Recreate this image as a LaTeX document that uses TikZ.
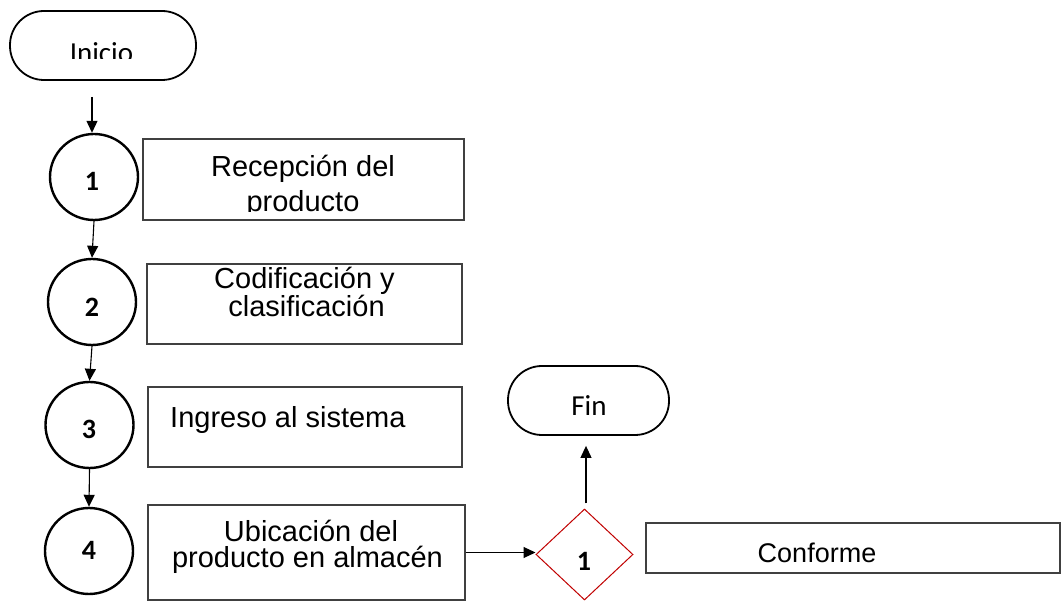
\documentclass[tikz,border=0pt]{standalone}
\usepackage{fontspec}
\setmainfont{Liberation Sans}
\newfontfamily\calfont{Carlito}
\usetikzlibrary{arrows.meta,shapes.geometric,calc}
\definecolor{boxgray}{HTML}{404040}
\definecolor{dmred}{HTML}{C00000}
\tikzset{
  boxstyle/.style={draw=boxgray,line width=1.4pt,rectangle,inner sep=0pt},
  stadium/.style={draw=black,line width=1.8pt,rectangle,rounded corners=34pt,inner sep=0pt,minimum height=69pt},
  stepcircle/.style={draw=black,line width=2.4pt,ellipse,inner sep=0pt,minimum width=88pt,minimum height=86pt},
  txt/.style={font=\fontsize{29}{35}\selectfont,inner sep=0pt,anchor=base},
  txttwo/.style={font=\fontsize{29}{23}\selectfont,inner sep=0pt,align=center,anchor=base},
  numtxt/.style={font=\calfont\bfseries\fontsize{28}{30}\selectfont,inner sep=0pt},
  termtxt/.style={font=\calfont\fontsize{29}{32}\selectfont,inner sep=0pt,anchor=base},
  arr/.style={line width=1.1pt,-{Triangle[length=12pt,width=11pt]}},
}
\begin{document}
\begin{tikzpicture}[x=1pt,y=-1pt]
\useasboundingbox (0,0) rectangle (1061,601);
% terminals
\node[stadium,minimum width=186pt] (inicio) at (103,45.5) {};
\begin{scope}
\clip (0,0) rectangle (1061,59);
\node[termtxt] (tinicio) at (101.5,63) {Inicio};
\end{scope}
\node[stadium,minimum width=161pt] (fin) at (588.5,400.5) {};
\node[termtxt] (tfin) at (589,416) {Fin};
% circles
\node[stepcircle] (c1) at (94,177) {};
\node[stepcircle] (c2) at (92,302) {};
\node[stepcircle] (c3) at (89.5,425) {};
\node[stepcircle] (c4) at (89,551) {};
\node[numtxt] (n1) at (92,181) {1};
\node[numtxt] (n2) at (92,307) {2};
\node[numtxt] (n3) at (89,429) {3};
\node[numtxt] (n4) at (89,550) {4};
% boxes
\node[boxstyle,minimum width=321pt,minimum height=81pt] (b1) at (303.5,179.5) {};
\node[boxstyle,minimum width=315pt,minimum height=80pt] (b2) at (304.5,304) {};
\node[boxstyle,minimum width=314pt,minimum height=80pt] (b3) at (305,427) {};
\node[boxstyle,minimum width=317pt,minimum height=95pt] (b4) at (306.5,552.5) {};
\node[boxstyle,minimum width=414pt,minimum height=50pt] (b5) at (853,548) {};
\node[txt] (t1a) at (303,177) {Recepción del};
\begin{scope}
\clip (143,190) rectangle (464,212);
\node[txt] (t1b) at (303,212) {producto};
\end{scope}
\node[txttwo] (t2) at (304.5,317) {Codificación y\\\hspace*{4pt}clasificación};
\node[txt,anchor=base west] (t3) at (170,428) {Ingreso al sistema};
\node[txttwo,font=\fontsize{29}{26}\selectfont] (t4) at (307.5,567) {\hspace*{7pt}Ubicación del\\producto en almacén};
\node[txt,font=\fontsize{27}{32}\selectfont] (t5) at (817,562) {Conforme};
% decision
\node[draw=dmred,line width=1pt,diamond,inner sep=0pt,minimum width=97pt,minimum height=91pt] (dm) at (584.5,554.5) {};
\node[numtxt] (dn) at (584,561) {1};
% connectors
\coordinate (s0) at (92,97);
\draw[arr] (s0) -- (s0 |- c1.north);
\draw[arr] (c1.south) -- (c2.north);
\draw[arr] (c2.south) -- (c3.north);
\draw[arr] (c3.south) -- (c4.north);
\draw[arr] (b4.east) -- (b4.east -| dm.west);
\draw[arr,shorten <=5pt,shorten >=10pt] ([xshift=1.5pt]dm.north) -- ([xshift=1.5pt]dm.north |- fin.south);
\end{tikzpicture}
\end{document}
